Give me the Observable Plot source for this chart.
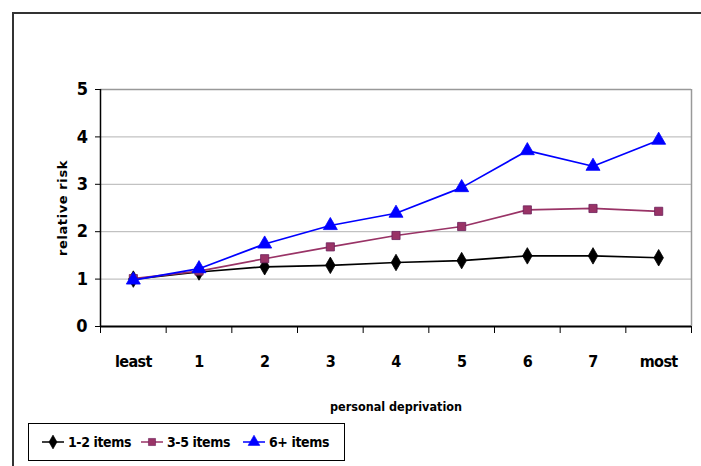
<!DOCTYPE html>
<html>
<head>
<meta charset="utf-8">
<script src="https://cdn.jsdelivr.net/npm/d3@7"></script>
<script src="https://cdn.jsdelivr.net/npm/@observablehq/plot@0.6"></script>
<style>
  html, body { margin: 0; padding: 0; background: #fff; }
  #wrap { position: relative; width: 701px; height: 466px; overflow: hidden;
          font-family: "DejaVu Sans", sans-serif; font-stretch: condensed; }
  #frame { position: absolute; left: 12px; top: 12px; width: 720px; height: 480px;
           border-left: 2px solid #333; border-top: 2px solid #333; }
  #chart { position: absolute; left: 0; top: 0; }
  #chart svg text { font-stretch: condensed; }
  #legend { position: absolute; left: 28px; top: 423px; width: 317px; height: 38px;
            border: 1px solid #000; background: #fff; box-sizing: border-box;
            font-weight: bold; font-size: 14px; white-space: nowrap; font-stretch: condensed;
            letter-spacing: -0.4px; }
  .item { position: absolute; top: 0; height: 36px; display: flex; align-items: center; gap: 3px; }
</style>
</head>
<body>
<div id="wrap">
  <div id="frame"></div>
  <div id="chart"></div>
  <div id="legend"></div>
</div>
<script>
const categories = ["least", "1", "2", "3", "4", "5", "6", "7", "most"];
const items12 = [1.00, 1.15, 1.26, 1.29, 1.35, 1.39, 1.49, 1.49, 1.45];
const items35 = [1.01, 1.17, 1.43, 1.68, 1.92, 2.11, 2.46, 2.49, 2.43];
const items6p = [0.98, 1.22, 1.74, 2.13, 2.39, 2.93, 3.71, 3.38, 3.93];
const seriesNames = ["1-2 items", "3-5 items", "6+ items"];
const yTicks = [0, 1, 2, 3, 4, 5];

const seriesStyle = {
  "1-2 items": {stroke: "#000000", fill: "#000000", symbol: "diamond", r: 5},
  "3-5 items": {stroke: "#993366", fill: "#993366", symbol: "square", r: 4.6},
  "6+ items": {stroke: "#0000ff", fill: "#0000ff", symbol: "triangle", r: 5.2}
};

const values = [items12, items35, items6p];
const data = [];
seriesNames.forEach((s, k) => {
  values[k].forEach((v, i) => data.push({series: s, idx: i + 0.5, cat: categories[i], value: v}));
});

const boundaries = d3.range(categories.length + 1);
const centers = categories.map((c, i) => i + 0.5);
const fontStack = '"DejaVu Sans", sans-serif';

const marks = [
  Plot.gridY([1, 2, 3, 4], {stroke: "#b3b3b3", strokeOpacity: 1, strokeWidth: 1}),
  Plot.ruleY([5], {stroke: "#999", strokeWidth: 1.5}),
  Plot.ruleX([categories.length], {stroke: "#999", strokeWidth: 1.5}),
  Plot.axisY({ticks: yTicks, tickFormat: "d", tickSize: 5, tickPadding: 8, label: null,
              fontSize: 18, fontWeight: "bold"}),
  Plot.axisY({ticks: [], label: "relative risk", labelAnchor: "center", labelArrow: "none",
              labelOffset: 43, fontSize: 13, fontWeight: "bold"}),
  Plot.axisX({ticks: boundaries, tickFormat: () => "", tickSize: 7, label: null}),
  Plot.axisX({ticks: centers, tickFormat: d => categories[Math.round(d - 0.5)], tickSize: 0,
              tickPadding: 29, label: null, fontSize: 16, fontWeight: "bold"}),
  Plot.axisX({ticks: [], label: "personal deprivation", labelAnchor: "center", labelArrow: "none",
              labelOffset: 84, fontSize: 12.5, fontWeight: "bold"}),
  Plot.ruleX([0], {stroke: "#000", strokeWidth: 1.5}),
  Plot.ruleY([0], {stroke: "#000", strokeWidth: 2})
];

seriesNames.forEach(s => {
  const st = seriesStyle[s];
  const d = data.filter(e => e.series === s);
  marks.push(Plot.line(d, {x: "idx", y: "value", stroke: st.stroke, strokeWidth: 1.7}));
  marks.push(Plot.dot(d, {x: "idx", y: "value", symbol: () => st.symbol, fill: st.fill,
                          stroke: s === "3-5 items" ? "#6b1f5a" : st.stroke, strokeWidth: 0.8, r: st.r}));
});

const chart = Plot.plot({
  width: 701,
  height: 420,
  marginLeft: 100,
  marginRight: 10,
  marginTop: 89,
  marginBottom: 94,
  style: {fontFamily: fontStack, color: "#000", background: "transparent"},
  x: {type: "linear", domain: [0, categories.length]},
  y: {domain: [0, 5]},
  symbol: {type: "identity"},
  marks
});
document.getElementById("chart").appendChild(chart);
chart.querySelectorAll("text").forEach(t => {
  if (t.textContent === "relative risk") { t.style.fontStretch = "normal"; t.style.letterSpacing = "0.6px"; }
  if (categories.includes(t.textContent)) { t.style.letterSpacing = "-0.6px"; }
});

// legend
const legend = document.getElementById("legend");
const itemLefts = [12, 111, 213];
const symPaths = {diamond: d3.symbol(d3.symbolDiamond, 55)(), square: d3.symbol(d3.symbolSquare, 50)(), triangle: d3.symbol(d3.symbolTriangle, 60)()};
seriesNames.forEach((s, k) => {
  const st = seriesStyle[s];
  const el = document.createElement("div");
  el.className = "item";
  el.style.left = itemLefts[k] + "px";
  el.innerHTML = `<svg width="24" height="14"><line x1="1" x2="23" y1="7" y2="7" stroke="${st.stroke}" stroke-width="1.5"/>` +
    `<path transform="translate(12,7)" d="${symPaths[st.symbol]}" fill="${st.fill}" stroke="${s === '3-5 items' ? '#6b1f5a' : st.stroke}" stroke-width="0.6"/></svg>` +
    `<span>${s}</span>`;
  legend.appendChild(el);
});
</script>
</body>
</html>
